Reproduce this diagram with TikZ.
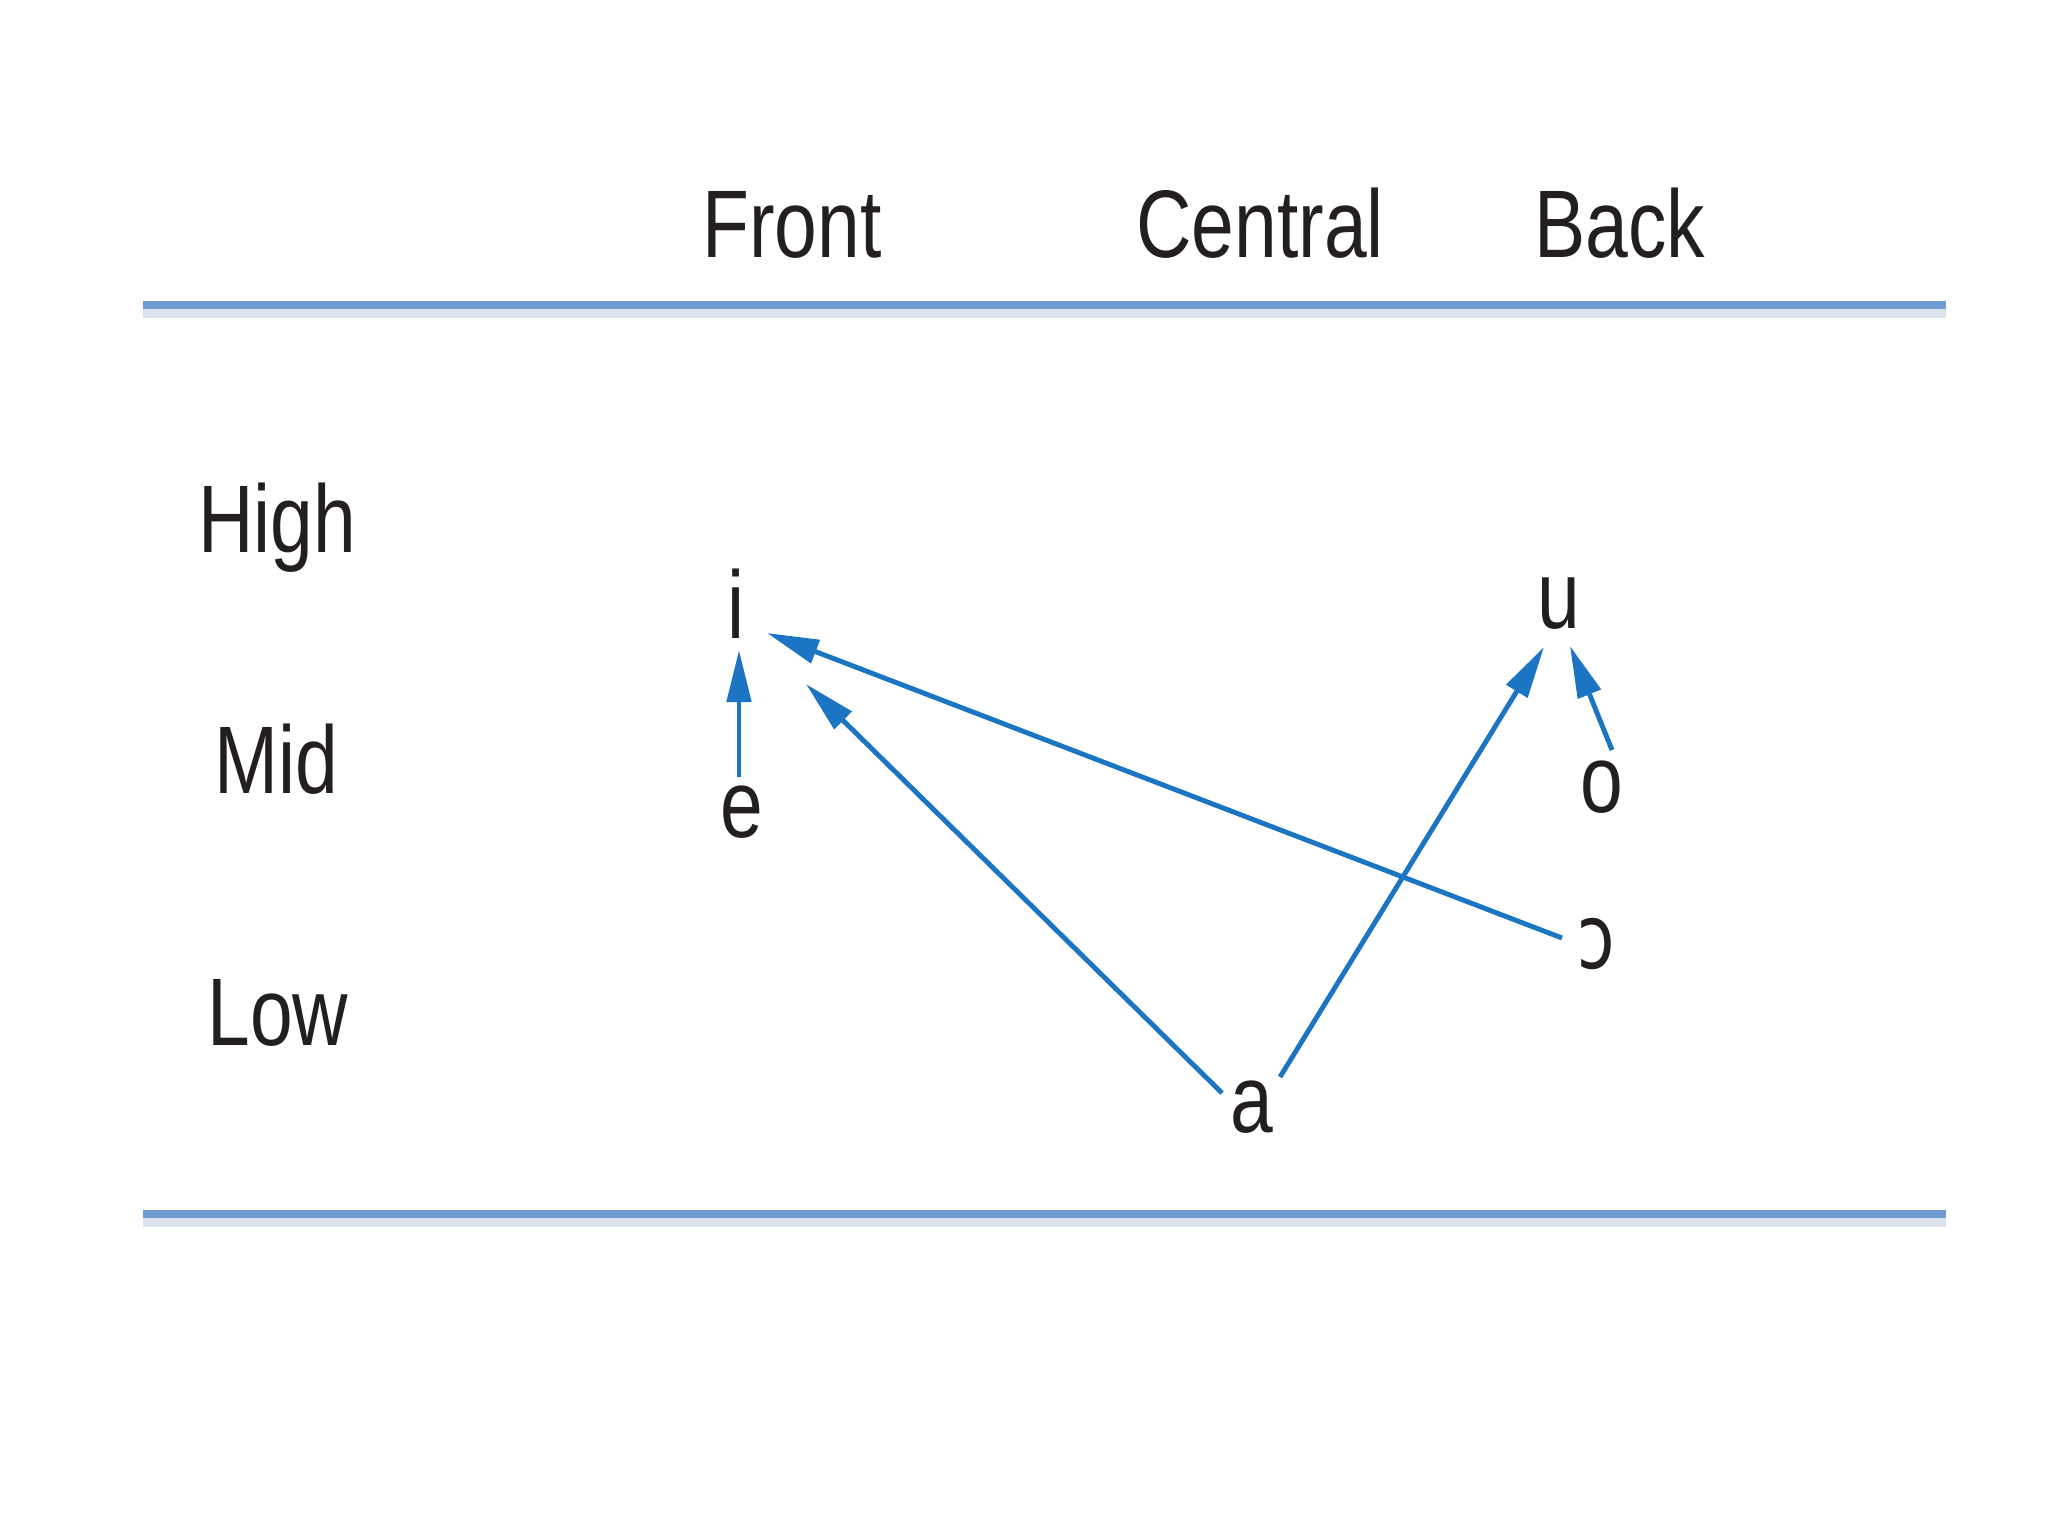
\documentclass[tikz,border=0pt]{standalone}
\usepackage{fontspec}
\setmainfont{Liberation Sans}[FakeStretch=0.8]
\newfontfamily\ipafont{DejaVu Sans}[FakeStretch=0.76]
\usetikzlibrary{arrows.meta}
\definecolor{arrowblue}{HTML}{1B75C2}
\definecolor{rulemain}{HTML}{6F9BD0}
\definecolor{ruleshade}{HTML}{DCE3EE}
\definecolor{ink}{HTML}{231F20}
\begin{document}
\begin{tikzpicture}[x=0.01cm,y=-0.01cm,
  lbl/.style={anchor=base,inner sep=0pt,text=ink,font=\fontsize{27.3}{30}\selectfont},
  vowel/.style={anchor=base,inner sep=0pt,text=ink,font=\fontsize{27.3}{30}\selectfont},
  arr/.style={draw=arrowblue,line width=1.4pt,-{Triangle[length=5.2mm,width=2.4mm]}}]
\useasboundingbox (0,0) rectangle (2048,1536);
% rules
\fill[ruleshade] (143,309) rectangle (1946,318);
\fill[rulemain] (143,301) rectangle (1946,309);
\fill[ruleshade] (143,1218) rectangle (1946,1227);
\fill[rulemain] (143,1210) rectangle (1946,1218);
% headers
\node[lbl] (front) at (792,257) {Front};
\node[lbl] (central) at (1260,257) {Central};
\node[lbl] (back) at (1620,257) {Back};
\node[lbl] (high) at (277,552) {High};
\node[lbl] (mid) at (276,793) {Mid};
\node[lbl] (low) at (278,1045) {Low};
% vowels
\node[vowel] (i) at (736,638) {i};
\node[vowel] (e) at (742,837) {e};
\node[vowel] (a) at (1252,1132) {a};
\node[vowel,font=\ipafont\fontsize{25.5}{30}\selectfont] (oo) at (1596,968) {ɔ};
\node[vowel] (u) at (1559,628) {u};
\node[vowel] (o) at (1602,812) {o};
% arrows
\draw[arr] ([shift={(-3,-60)}]e.base) -- ([shift={(3,12)}]i.base);
\draw[arr] ([shift={(-34,-30)}]oo.base) -- ([shift={(31,-5)}]i.base);
\draw[arr] ([shift={(-30,-39)}]a.base) -- ([shift={(70,46)}]i.base);
\draw[arr] ([shift={(28,-55)}]a.base) -- ([shift={(-15,19)}]u.base);
\draw[arr] ([shift={(10,-62)}]o.base) -- ([shift={(11,18)}]u.base);
\end{tikzpicture}
\end{document}
